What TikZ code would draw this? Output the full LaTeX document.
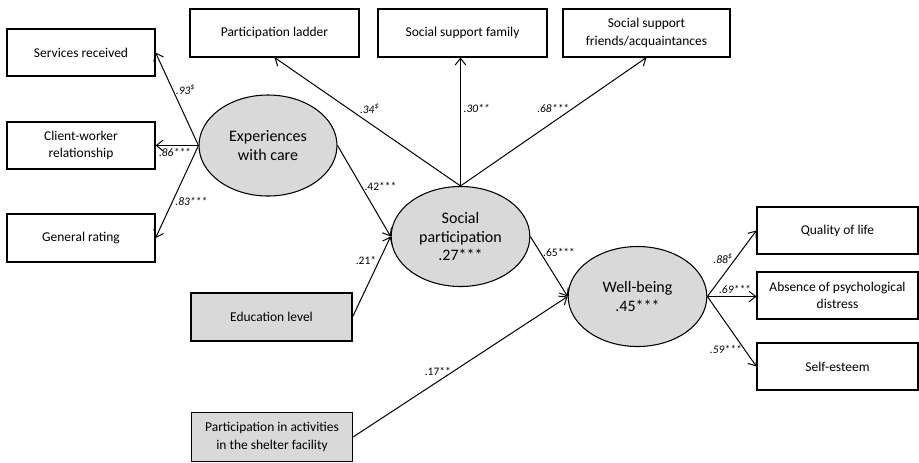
\documentclass[tikz,border=0pt]{standalone}
\usepackage{fontspec}
\setmainfont{Carlito}
\usepackage{xcolor}
\usetikzlibrary{positioning, arrows.meta, shapes.geometric}

\definecolor{latentgray}{HTML}{D9D9D9}

\tikzset{
  indicator/.style={draw, thick, rectangle, align=center, inner sep=0pt,
    minimum width=111pt, minimum height=35.25pt, font=\fontsize{10.1}{13}\selectfont},
  observed/.style={indicator, fill=latentgray, minimum width=120.75pt, minimum height=36pt},
  latent/.style={draw, thick, ellipse, fill=latentgray, align=center, inner sep=0pt,
    minimum width=104pt, minimum height=75pt, font=\fontsize{12}{14}\selectfont},
  path/.style={->, >={Straight Barb[length=5pt,width=8pt]}, line width=0.75pt},
  coef/.style={font=\fontsize{8.6}{9}\selectfont, inner sep=2pt}
}

\begin{document}
\begin{tikzpicture}[x=0.75pt, y=-0.75pt]
          \useasboundingbox (0,0) rectangle (919,462);

          % indicators of experiences with care
          \node[indicator] (serv) at (81,52.5) {Services received};
          \node[indicator] (client) at (81,145.5) {Client-worker\\relationship};
          \node[indicator, minimum height=36pt] (rating) at (81,238) {General rating};

          % indicators of social participation
          \node[indicator, minimum width=126.75pt, minimum height=36pt] (ladder) at (274.5,33) {Participation ladder};
          \node[indicator, minimum width=126.75pt, minimum height=36pt] (family) at (462.5,33) {Social support family};
          \node[indicator, minimum width=125.25pt, minimum height=36pt] (friends) at (646.5,33) {Social support\\friends/acquaintances};

          % indicators of well-being
          \node[indicator, minimum width=120.75pt] (qol) at (837.5,230.5) {Quality of life};
          \node[indicator, minimum width=120.75pt] (distress) at (837.5,295.5) {Absence of psychological\\distress};
          \node[indicator, minimum width=120.75pt] (esteem) at (837.5,366.5) {Self-esteem};

          % observed predictors
          \node[observed] (edu) at (271.5,317) {Education level};
          \node[observed, minimum height=36.75pt] (activ) at (272,437) {Participation in activities\\in the shelter facility};

          % latent variables
          \node[latent, minimum width=103.5pt, minimum height=75.75pt] (exp) at (268,145.5) {Experiences\\with care};
          \node[latent] (soc) at (460.5,236.5) {Social\\participation\\.27***};
          \node[latent] (wb) at (637.5,296.5) {Well-being\\.45***};

          \draw[path] (exp.west) -- node[coef, pos=0.6, right] {\textit{.93\textsuperscript{\$}}} (serv.east);
          \draw[path] (exp.west) -- node[coef, pos=0.55, below] {\textit{.86***}} (client.east);
          \draw[path] (exp.west) -- node[coef, pos=0.61, right] {\textit{.83***}} (rating.east);

          \draw[path] (exp.east) -- node[coef, pos=0.45, right] {.42***} (soc.west);
          \draw[path] (edu.east) -- node[coef, pos=0.7, left] {.21*} (soc.west);

          \draw[path] (soc.north) -- node[coef, pos=0.55, above right, inner sep=1pt] {\textit{.34\textsuperscript{\$}}} (ladder.south);
          \draw[path] (soc.north) -- node[coef, pos=0.6, right] {\textit{.30**}} (soc.north |- family.south);
          \draw[path] (soc.north) -- node[coef, pos=0.6, left] {\textit{.68***}} (friends.south);

          \draw[path] (soc.east) -- node[coef, pos=0.26, right] {.65***} (wb.west);
          \draw[path] (activ.east) -- node[coef, pos=0.47, left] {.17**} (wb.west);

          \draw[path] (wb.east) -- node[coef, pos=0.58, left] {\textit{.88\textsuperscript{\$}}} (qol.west);
          \draw[path] (wb.east) -- node[coef, pos=0.56, above] {\textit{.69***}} (wb.east -| distress.west);
          \draw[path] (wb.east) -- node[coef, pos=0.76, left] {\textit{.59***}} (esteem.west);
        \end{tikzpicture}
\end{document}
